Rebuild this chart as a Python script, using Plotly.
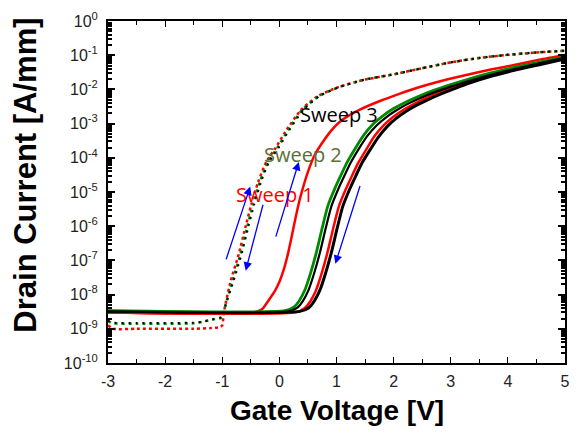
import plotly.graph_objects as go

# ---- data (gate voltage [V], log10 drain current [A/mm]) ----
# Sweep 1 (red)
V_red_fwd = [-3, -0.45, -0.3, -0.19, -0.08, 0.01, 0.08, 0.15, 0.21, 0.27, 0.33, 0.38, 0.5, 0.62, 0.76, 0.9, 1.07, 1.4, 1.76, 2.1, 2.4, 2.75, 3.27, 3.7, 4.13, 4.55, 5.0]
L_red_fwd = [-8.52, -8.52, -8.42, -8.17, -7.9, -7.59, -7.25, -6.81, -6.35, -5.86, -5.4, -5.07, -4.41, -3.91, -3.54, -3.22, -2.93, -2.6, -2.34, -2.13, -1.96, -1.79, -1.58, -1.42, -1.28, -1.13, -0.99]
V_red_b = [-3, 0.29, 0.44, 0.54, 0.64, 0.74, 0.84, 0.94, 1.04, 1.16, 1.27, 1.38, 1.52, 1.66, 1.82, 1.98, 2.14, 2.32, 2.5, 2.77, 3.04, 3.27, 3.7, 4.13, 4.55, 5.0]
L_red_b = [-8.52, -8.52, -8.40, -8.2, -7.88, -7.38, -6.78, -6.08, -5.43, -4.93, -4.53, -4.15, -3.76, -3.38, -3.06, -2.82, -2.63, -2.46, -2.31, -2.11, -1.94, -1.81, -1.59, -1.41, -1.25, -1.09]
V_red_rev = [-3, -2.9, -2.5, -1.5, -1.2, -1.04, -1.0, -0.97, -0.85, -0.71, -0.59, -0.49, -0.37, -0.23, -0.07, 0.1, 0.38, 0.67, 1.02, 1.48, 2.0, 2.5, 3.0, 3.5, 4.0, 4.5, 5.0]
L_red_rev = [-8.9, -9.0, -9.0, -9.0, -8.98, -8.95, -8.9, -8.5, -7.59, -6.81, -6.0, -5.36, -4.7, -4.12, -3.72, -3.25, -2.6, -2.2, -1.94, -1.72, -1.56, -1.38, -1.21, -1.08, -0.99, -0.92, -0.87]

# Sweep 2 (green)
V_grn_fwd = [-3, 0.1, 0.25, 0.35, 0.45, 0.55, 0.65, 0.75, 0.85, 0.97, 1.08, 1.19, 1.33, 1.48, 1.65, 1.83, 2.0, 2.2, 2.4, 2.7, 3.0, 3.27, 3.7, 4.13, 4.55, 5.0]
L_grn_fwd = [-8.47, -8.47, -8.37, -8.17, -7.85, -7.35, -6.75, -6.05, -5.4, -4.9, -4.5, -4.12, -3.72, -3.33, -3.0, -2.75, -2.56, -2.38, -2.23, -2.03, -1.86, -1.72, -1.52, -1.35, -1.2, -1.05]
V_grn_rev = [-3, -2.9, -2.5, -1.5, -1.35, -1.2, -1.05, -1.0, -0.95, -0.82, -0.68, -0.56, -0.46, -0.34, -0.2, -0.04, 0.13, 0.4, 0.69, 1.03, 1.48, 2.0, 2.5, 3.0, 3.5, 4.0, 4.5, 5.0]
L_grn_rev = [-8.78, -8.84, -8.85, -8.84, -8.80, -8.73, -8.70, -8.66, -8.35, -7.59, -6.81, -6.0, -5.36, -4.7, -4.12, -3.72, -3.25, -2.6, -2.2, -1.94, -1.72, -1.56, -1.38, -1.21, -1.08, -0.99, -0.92, -0.87]

# Sweep 3 (black)
V_blk_a = [-3, 0.16, 0.31, 0.41, 0.51, 0.61, 0.71, 0.81, 0.91, 1.03, 1.14, 1.25, 1.39, 1.54, 1.71, 1.88, 2.05, 2.24, 2.43, 2.72, 3.0, 3.27, 3.7, 4.13, 4.55, 5.0]
L_blk_a = [-8.49, -8.49, -8.39, -8.19, -7.87, -7.37, -6.77, -6.07, -5.42, -4.92, -4.52, -4.14, -3.74, -3.36, -3.04, -2.80, -2.61, -2.43, -2.28, -2.08, -1.92, -1.78, -1.57, -1.40, -1.24, -1.08]
V_blk_b = [-3, 0.36, 0.51, 0.61, 0.71, 0.81, 0.91, 1.01, 1.11, 1.23, 1.34, 1.45, 1.59, 1.73, 1.89, 2.05, 2.2, 2.37, 2.55, 2.82, 3.08, 3.3, 3.72, 4.15, 4.57, 5.0]
L_blk_b = [-8.49, -8.49, -8.39, -8.19, -7.87, -7.37, -6.77, -6.07, -5.42, -4.92, -4.52, -4.14, -3.76, -3.4, -3.08, -2.84, -2.66, -2.49, -2.34, -2.14, -1.97, -1.83, -1.61, -1.43, -1.27, -1.11]
V_blk_rev = [-3, -2.9, -2.5, -1.5, -1.3, -1.15, -1.05, -1.0, -0.94, -0.8, -0.66, -0.54, -0.44, -0.32, -0.18, -0.02, 0.15, 0.42, 0.7, 1.04, 1.48, 2.0, 2.5, 3.0, 3.5, 4.0, 4.5, 5.0]
L_blk_rev = [-8.76, -8.82, -8.83, -8.82, -8.78, -8.72, -8.68, -8.64, -8.3, -7.59, -6.81, -6.0, -5.36, -4.7, -4.12, -3.72, -3.25, -2.6, -2.2, -1.94, -1.72, -1.56, -1.38, -1.21, -1.08, -0.99, -0.92, -0.87]

# labels (V, log10 I)
sweep_labels = ["Sweep 1", "Sweep 2", "Sweep 3"]
sweep_label_V = [-0.07, 0.41, 1.05]
sweep_label_L = [-5.07, -3.91, -2.72]

# blue sweep-direction arrows: (tail V, tail logI, head V, head logI)
arrows = [(-0.94, -7.01, -0.51, -4.84),
          (-0.28, -5.33, -0.59, -7.30),
          (-0.07, -6.35, 0.34, -4.12),
          (1.42, -4.78, 0.98, -7.10)]

x_ticks = [-3, -2, -1, 0, 1, 2, 3, 4, 5]
y_exps = list(range(-10, 1))

RED = "#ff0000"
GRN = "#008a00"
BLK = "#000000"
OLIVE = "#5a6e38"


def cur(logs):
    return [10 ** v for v in logs]


fig = go.Figure()

def add(v, l, color, width, dash="solid"):
    fig.add_trace(go.Scatter(x=v, y=cur(l), mode="lines",
                             line=dict(color=color, width=width, dash=dash, shape="spline", smoothing=0.6),
                             showlegend=False, hoverinfo="skip"))

# reverse (dotted)
add(V_red_rev, L_red_rev, RED, 2.5, "3px,3px")
add(V_grn_rev, L_grn_rev, GRN, 2.5, "3px,4px")
add(V_blk_rev, L_blk_rev, BLK, 2.0, "2px,5px")
# forward (solid)
add(V_red_fwd, L_red_fwd, RED, 2.5)
add(V_red_b, L_red_b, RED, 2.5)
add(V_blk_b, L_blk_b, BLK, 3.0)
add(V_grn_fwd, L_grn_fwd, GRN, 2.8)
add(V_blk_a, L_blk_a, BLK, 2.2)

label_colors = [RED, OLIVE, BLK]
for t, xv, yv, c in zip(sweep_labels, sweep_label_V, sweep_label_L, label_colors):
    fig.add_annotation(x=xv, y=yv, xref="x", yref="y", text=t, showarrow=False,
                       font=dict(family="Open Sans, Liberation Sans, sans-serif", size=20, color=c))

for (tx, ty, hx, hy) in arrows:
    fig.add_annotation(x=hx, y=hy, ax=tx, ay=ty, xref="x", yref="y", axref="x", ayref="y",
                       text="", showarrow=True, arrowhead=2, arrowsize=1.3, arrowwidth=1.3,
                       arrowcolor="#0000ff")

minor_vals = [k * 10 ** e for e in range(-10, 0) for k in range(2, 10)]

fig.update_xaxes(range=[-3, 5], tickvals=x_ticks, ticktext=[str(t) for t in x_ticks],
                 ticks="inside", ticklen=6, tickwidth=1, tickcolor="black",
                 minor=dict(ticks="inside", ticklen=4, dtick=0.5, tick0=0, tickcolor="black"),
                 showline=True, linecolor="black", linewidth=2, mirror="allticks",
                 showgrid=False, zeroline=False, ticklabelstandoff=3,
                 tickfont=dict(family="Liberation Sans, Arial", size=16, color="#222"))
fig.update_yaxes(type="log", range=[-10, 0],
                 tickvals=[10 ** e for e in y_exps],
                 ticktext=["10<sup>%d</sup>" % e for e in y_exps],
                 ticks="inside", ticklen=7, tickwidth=2, tickcolor="black",
                 minor=dict(ticks="inside", ticklen=4, tickmode="array", tickvals=minor_vals, tickcolor="black"),
                 showline=True, linecolor="black", linewidth=2, mirror="allticks",
                 showgrid=False, zeroline=False, ticklabelstandoff=5,
                 tickfont=dict(family="Liberation Sans, Arial", size=16, color="#222"))

fig.add_annotation(text="<b>Gate Voltage [V]</b>", xref="paper", yref="paper", x=0.5, y=-0.14,
                   showarrow=False, yanchor="middle",
                   font=dict(family="Liberation Sans, Arial", size=28, color="black"))
fig.add_annotation(text="<b>Drain Current [A/mm]</b>", xref="paper", yref="paper", x=-0.18, y=0.55,
                   showarrow=False, textangle=-90, xanchor="center", yanchor="middle",
                   font=dict(family="Liberation Sans, Arial", size=31, color="black"))

fig.update_layout(width=580, height=435, margin=dict(l=108, r=10, t=18, b=72),
                  paper_bgcolor="white", plot_bgcolor="white")

fig.write_html("out.html")
